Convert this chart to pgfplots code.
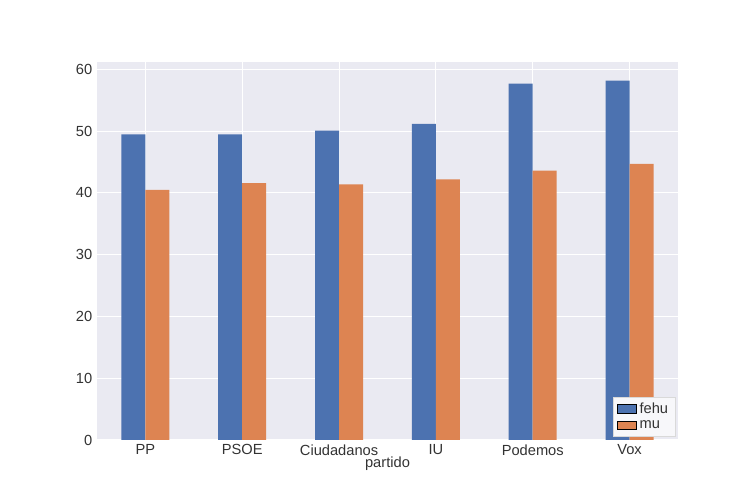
\documentclass[border=0pt]{standalone}
\usepackage{pgfplots}
\pgfplotsset{compat=1.18}
\usepackage{fontspec}
\setmainfont{Liberation Sans}
\definecolor{sbblue}{HTML}{4C72B0}
\definecolor{sborange}{HTML}{DD8452}
\definecolor{sbbg}{HTML}{EAEAF2}
\begin{document}
\begin{tikzpicture}
\path (-72.75pt,-47.25pt) rectangle ++(565.5pt,377.25pt);
\begin{axis}[
  at={(0,0)}, anchor=south west, scale only axis,
  width=435.75pt, height=283.5pt,
  xmin=-0.5, xmax=5.5, ymin=0, ymax=61.2,
  xtick={0,1,2,3,4,5},
  xticklabels={PP,PSOE,Ciudadanos,IU,Podemos,Vox},
  ytick={0,10,20,30,40,50,60},
  /pgf/number format/assume math mode=true,
  ticklabel style={font=\fontsize{11pt}{12pt}\selectfont, text=black!80},
  xlabel={partido}, xlabel style={font=\fontsize{11pt}{12pt}\selectfont, text=black!80, yshift=6pt},
  axis background/.style={fill=sbbg},
  axis line style={draw=none},
  major tick length=0pt,
  grid=major, grid style={white, line width=0.8pt},
  axis on top=false,
  ybar, bar width=18pt,
  legend style={at={(0.995,0.01)}, anchor=south east, fill=sbbg!40, draw=black!15, font=\fontsize{11pt}{12pt}\selectfont, text=black!80},
  legend cell align=left,
  legend image code/.code={\draw[#1] (0cm,-0.1cm) rectangle (0.5cm,0.12cm);},
]
\addplot[fill=sbblue, draw=none, bar shift=-9pt] coordinates {(0,49.5) (1,49.5) (2,50.1) (3,51.2) (4,57.7) (5,58.2)};
\addplot[fill=sborange, draw=none, bar shift=9pt] coordinates {(0,40.5) (1,41.6) (2,41.4) (3,42.2) (4,43.6) (5,44.7)};
\legend{fehu,mu}
\end{axis}
\end{tikzpicture}
\end{document}
